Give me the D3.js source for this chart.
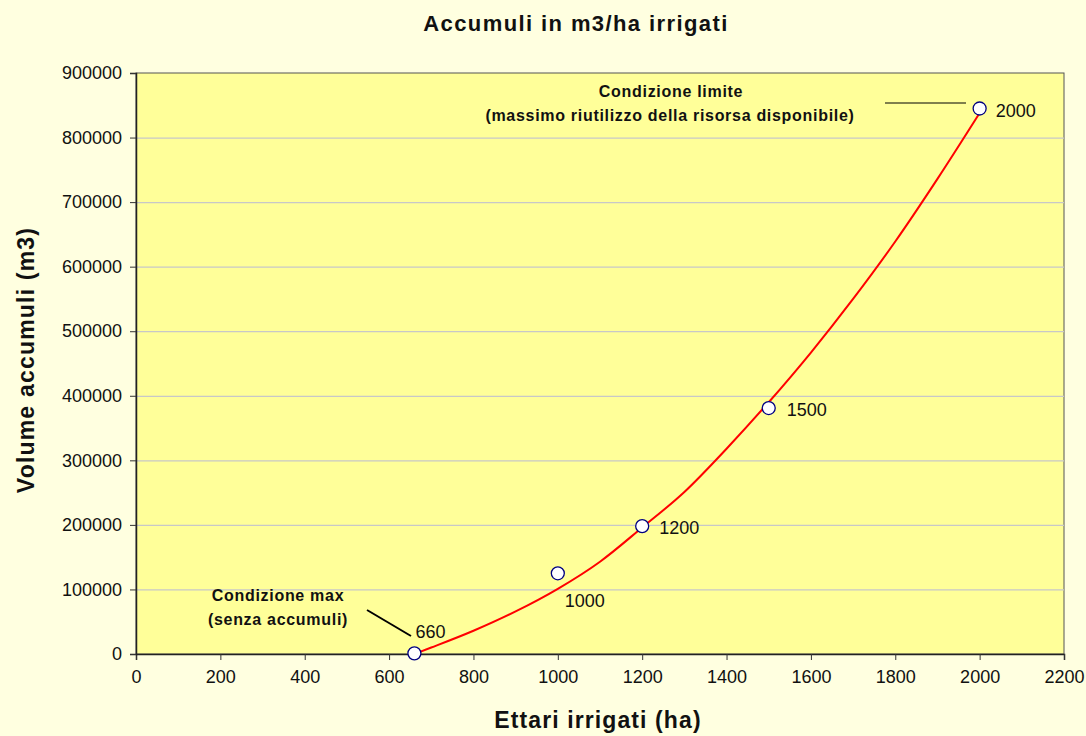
<!DOCTYPE html>
<html>
<head>
<meta charset="utf-8">
<script src="https://cdn.jsdelivr.net/npm/d3@7"></script>
<style>
  body { margin: 0; background: #FFFFE0; }
  svg { display: block; font-family: "Liberation Sans", Arial, sans-serif; }
</style>
</head>
<body>
<div id="chart"></div>
<script>
// measured points (ettari, volume)
var ettari = [660, 1000, 1200, 1500, 2000];
var volumi = [1000, 125000, 198000, 381000, 845000];
var pointLabels = ["660", "1000", "1200", "1500", "2000"];

// trend curve
var trendX = [660, 700, 800, 900, 1000, 1100, 1200, 1300, 1400, 1500, 1600, 1700, 1800, 1900, 2000];
var trendY = [0, 10000, 36000, 66000, 101000, 143000, 196000, 251000, 318000, 390000, 467000, 550000, 639000, 736000, 838000];

var xTicks = [0, 200, 400, 600, 800, 1000, 1200, 1400, 1600, 1800, 2000, 2200];
var yTicks = [0, 100000, 200000, 300000, 400000, 500000, 600000, 700000, 800000, 900000];

var w = 1086, h = 736;
var pLeft = 136, pRight = 1064, pTop = 73, pBottom = 654;

var svg = d3.select("#chart").append("svg").attr("width", w).attr("height", h);

var x = d3.scaleLinear().domain([0, 2200]).range([pLeft, pRight]);
var y = d3.scaleLinear().domain([0, 900000]).range([pBottom, pTop]);

// plot area
svg.append("rect").attr("x", pLeft).attr("y", pTop)
    .attr("width", pRight - pLeft).attr("height", pBottom - pTop)
    .attr("fill", "#FFFF99").attr("stroke", "#555").attr("stroke-width", 1);

// gridlines
svg.selectAll(".grid").data(yTicks.slice(1, -1)).enter().append("line")
    .attr("x1", pLeft).attr("x2", pRight)
    .attr("y1", function(d) { return y(d) + 0.5; })
    .attr("y2", function(d) { return y(d) + 0.5; })
    .attr("stroke", "#C8C8C8").attr("stroke-width", 1.3);

var xAxis = d3.axisBottom(x).tickValues(xTicks).tickSizeOuter(0).tickSize(6).tickPadding(10).tickFormat(d3.format("d"));
var yAxis = d3.axisLeft(y).tickValues(yTicks).tickSizeOuter(0).tickSize(6).tickPadding(8).tickFormat(d3.format("d"));

var gx = svg.append("g").attr("transform", "translate(0," + pBottom + ")").call(xAxis);
var gy = svg.append("g").attr("transform", "translate(" + pLeft + ",0)").call(yAxis);
[gx, gy].forEach(function(g) {
    g.select(".domain").attr("stroke", "#222").attr("stroke-width", 1.5);
    g.selectAll(".tick line").attr("stroke", "#333");
    g.selectAll("text").attr("font-size", "18px").attr("fill", "#111")
        .attr("font-family", "Liberation Sans, Arial, sans-serif");
});

// trend line
var line = d3.line()
    .x(function(d) { return x(d[0]); })
    .y(function(d) { return y(d[1]); })
    .curve(d3.curveMonotoneX);
svg.append("path")
    .datum(trendX.map(function(v, i) { return [v, trendY[i]]; }))
    .attr("d", line).attr("fill", "none")
    .attr("stroke", "#FF0000").attr("stroke-width", 2);

// leader lines
svg.append("line").attr("x1", 367).attr("y1", 610).attr("x2", 411).attr("y2", 636)
    .attr("stroke", "#000").attr("stroke-width", 2);
svg.append("line").attr("x1", 885).attr("y1", 103).attr("x2", 966).attr("y2", 103)
    .attr("stroke", "#000").attr("stroke-width", 1);

// markers
svg.selectAll(".pt").data(ettari).enter().append("circle")
    .attr("cx", function(d) { return x(d); })
    .attr("cy", function(d, i) { return y(volumi[i]); })
    .attr("r", 6.5).attr("fill", "#fff")
    .attr("stroke", "#000080").attr("stroke-width", 1.3);

// point labels
var labelDx = [1, 7, 17, 18, 16];
var labelDy = [-15, 34, 8, 8, 8];
svg.selectAll(".plab").data(pointLabels).enter().append("text")
    .attr("x", function(d, i) { return x(ettari[i]) + labelDx[i]; })
    .attr("y", function(d, i) { return y(volumi[i]) + labelDy[i]; })
    .attr("font-size", "18px").attr("fill", "#111")
    .text(function(d) { return d; });

// annotations
function bold(txt, xx, yy, size, ls) {
    return svg.append("text").attr("x", xx).attr("y", yy)
        .attr("text-anchor", "middle").attr("font-weight", "bold")
        .attr("font-size", size + "px").attr("letter-spacing", ls + "px")
        .attr("fill", "#111").text(txt);
}
bold("Condizione limite", 671, 97, 16, 0.7);
bold("(massimo riutilizzo della risorsa disponibile)", 670, 121, 16, 0.7);
bold("Condizione max", 278, 601, 16, 0.7);
bold("(senza accumuli)", 278, 625, 16, 0.7);

// titles
bold("Accumuli in m3/ha irrigati", 576, 31, 22, 1.4);
bold("Ettari irrigati (ha)", 598, 728, 23, 1.1);
bold("Volume accumuli (m3)", 0, 0, 23, 1.2)
    .attr("transform", "translate(34,360) rotate(-90)");
</script>
</body>
</html>
